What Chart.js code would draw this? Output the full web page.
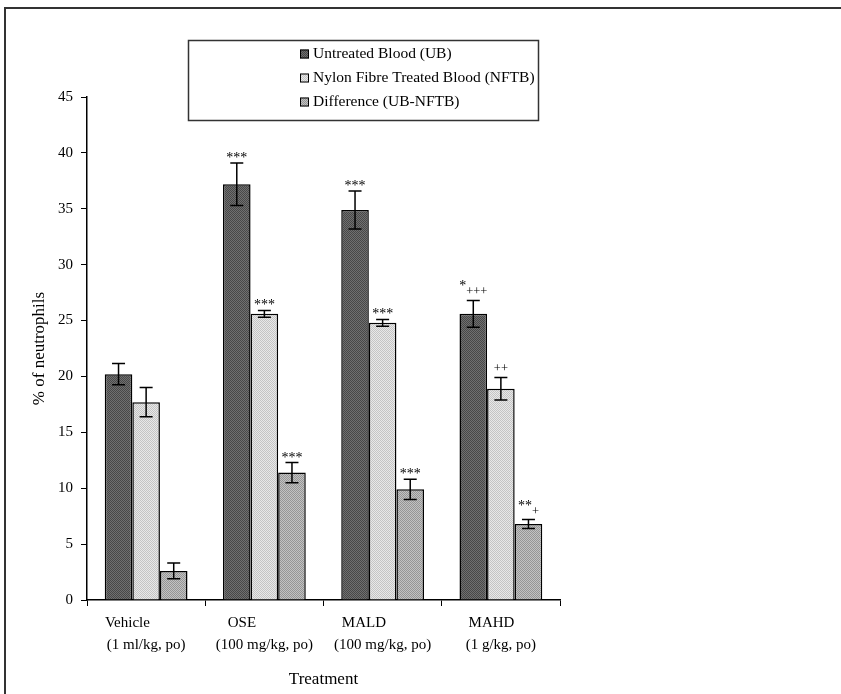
<!DOCTYPE html>
<html>
<head>
<meta charset="utf-8">
<script src="https://cdn.jsdelivr.net/npm/chart.js@4.4.0/dist/chart.umd.min.js"></script>
<style>
  body { margin: 0; background: #fff; }
</style>
</head>
<body>
<canvas id="neutroChart" width="841" height="694"></canvas>
<script>
// Treatment groups (first line padded the way the original labels sit)
const groupNames = ['Vehicle          ', 'OSE            ', 'MALD          ', 'MAHD     '];
const doseLabels = ['(1 ml/kg, po)', '(100 mg/kg, po)', '(100 mg/kg, po)', '(1 g/kg, po)'];
const seriesNames = ['Untreated Blood (UB)', 'Nylon Fibre Treated Blood (NFTB)', 'Difference (UB-NFTB)'];

// % of neutrophils, mean and error
const ubValues = [20.2, 37.2, 34.9, 25.6];
const ubErrors = [0.95, 1.9, 1.7, 1.2];
const nftbValues = [17.7, 25.6, 24.8, 18.9];
const nftbErrors = [1.3, 0.3, 0.3, 1.0];
const diffValues = [2.6, 11.4, 9.9, 6.8];
const diffErrors = [0.7, 0.9, 0.9, 0.4];

// significance marks
const ubStars = ['', '***', '***', '*'];
const ubPlus = ['', '', '', '+++'];
const nftbStars = ['', '***', '***', ''];
const nftbPlus = ['', '', '', '++'];
const diffStars = ['', '***', '***', '**'];
const diffPlus = ['', '', '', '+'];

const yMin = 0, yMax = 45, yStep = 5;

const serif = 'Liberation Serif';

// small dotted fills like the printed figure
function makePattern(base, dot) {
  const c = document.createElement('canvas');
  c.width = 2; c.height = 2;
  const g = c.getContext('2d');
  g.fillStyle = base;
  g.fillRect(0, 0, 2, 2);
  g.fillStyle = dot;
  g.fillRect(0, 0, 1, 1);
  g.fillRect(1, 1, 1, 1);
  return g.createPattern(c, 'repeat');
}

const ctx = document.getElementById('neutroChart').getContext('2d');
const fills = [
  makePattern('#707070', '#484848'),
  makePattern('#e8e8e8', '#c4c4c4'),
  makePattern('#c2c2c2', '#959595')
];
const errors = [ubErrors, nftbErrors, diffErrors];
const stars = [ubStars, nftbStars, diffStars];
const pluses = [ubPlus, nftbPlus, diffPlus];

const framePlugin = {
  id: 'frame',
  beforeDraw(chart) {
    const c = chart.ctx;
    c.save();
    c.fillStyle = '#fff';
    c.fillRect(0, 0, chart.width, chart.height);
    c.strokeStyle = '#333';
    c.lineWidth = 2;
    c.beginPath();
    c.moveTo(5, chart.height);
    c.lineTo(5, 8);
    c.lineTo(chart.width, 8);
    c.stroke();
    c.restore();
  }
};

const errorPlugin = {
  id: 'errorBars',
  afterDatasetsDraw(chart) {
    const c = chart.ctx;
    const y = chart.scales.y;
    c.save();
    chart.data.datasets.forEach((ds, di) => {
      const meta = chart.getDatasetMeta(di);
      meta.data.forEach((bar, i) => {
        const v = ds.data[i], e = errors[di][i];
        const top = y.getPixelForValue(v + e);
        const bot = y.getPixelForValue(v - e);
        c.strokeStyle = '#000';
        c.lineWidth = 1.5;
        c.beginPath();
        c.moveTo(bar.x, top); c.lineTo(bar.x, bot);
        c.moveTo(bar.x - 6.5, top); c.lineTo(bar.x + 6.5, top);
        c.moveTo(bar.x - 6.5, bot); c.lineTo(bar.x + 6.5, bot);
        c.stroke();

        // significance text
        const s = stars[di][i], p = pluses[di][i];
        c.fillStyle = '#000';
        c.textBaseline = 'alphabetic';
        c.font = '14px "' + serif + '"';
        const sw = s ? c.measureText(s).width : 0;
        c.font = '12.5px "' + serif + '"';
        const pw = p ? c.measureText(p).width : 0;
        const x0 = bar.x - (sw + pw) / 2;
        if (s && !p) {
          c.font = '14px "' + serif + '"';
          c.textAlign = 'center';
          c.fillText(s, bar.x, top - 1);
        } else if (s && p) {
          c.textAlign = 'left';
          c.font = '14px "' + serif + '"';
          c.fillText(s, x0, top - 10);
          c.font = '12.5px "' + serif + '"';
          c.fillText(p, x0 + sw, top - 5);
        } else if (p) {
          c.textAlign = 'center';
          c.font = '12.5px "' + serif + '"';
          c.fillText(p, bar.x, top - 6);
        }
      });
    });
    c.restore();
  }
};

const legendPlugin = {
  id: 'boxLegend',
  afterDraw(chart) {
    const c = chart.ctx;
    c.save();
    c.strokeStyle = '#333';
    c.lineWidth = 1.5;
    c.strokeRect(188.5, 40.5, 350, 80);
    c.font = '15.5px "' + serif + '"';
    c.textBaseline = 'middle';
    c.textAlign = 'left';
    chart.data.datasets.forEach((ds, i) => {
      const cy = 54 + i * 24;
      c.fillStyle = ds.backgroundColor;
      c.fillRect(300, cy - 4.5, 9, 9);
      c.strokeStyle = '#000';
      c.lineWidth = 1;
      c.strokeRect(300.5, cy - 4, 8, 8);
      c.fillStyle = '#000';
      c.fillText(ds.label, 313, cy);
    });
    c.restore();
  }
};

new Chart(ctx, {
  type: 'bar',
  data: {
    labels: groupNames.map((g, i) => [g, doseLabels[i]]),
    datasets: [
      { label: seriesNames[0], data: ubValues, backgroundColor: fills[0] },
      { label: seriesNames[1], data: nftbValues, backgroundColor: fills[1] },
      { label: seriesNames[2], data: diffValues, backgroundColor: fills[2] }
    ]
  },
  options: {
    responsive: false,
    animation: false,
    devicePixelRatio: 1,
    layout: { padding: { top: 97, right: 281, bottom: 0, left: 0 } },
    datasets: {
      bar: {
        borderColor: '#000',
        borderWidth: 1.5,
        categoryPercentage: 0.70,
        barPercentage: 1.0
      }
    },
    plugins: {
      legend: { display: false },
      tooltip: { enabled: false }
    },
    scales: {
      x: {
        afterFit(scale) { scale.height = 94; },
        grid: { display: true, drawOnChartArea: false, drawTicks: true, tickLength: 6, color: '#000', offset: true },
        border: { display: true, color: '#000', width: 1.5 },
        ticks: {
          color: '#000',
          padding: 6,
          maxRotation: 0,
          autoSkip: false,
          font: { family: serif, size: 15, lineHeight: 1.47 }
        },
        title: {
          display: true,
          text: 'Treatment',
          color: '#000',
          font: { family: serif, size: 17 },
          padding: { top: 0, bottom: 4 }
        }
      },
      y: {
        min: yMin,
        max: yMax,
        afterFit(scale) { scale.width = 87; },
        grid: { display: true, drawOnChartArea: false, drawTicks: true, tickLength: 6, color: '#000' },
        border: { display: true, color: '#000', width: 1.5 },
        ticks: {
          stepSize: yStep,
          color: '#000',
          padding: 8,
          font: { family: serif, size: 15 }
        },
        title: {
          display: true,
          text: '% of neutrophils',
          color: '#000',
          font: { family: serif, size: 17 },
          padding: { top: 29, bottom: 0 }
        }
      }
    }
  },
  plugins: [framePlugin, errorPlugin, legendPlugin]
});
</script>
</body>
</html>
